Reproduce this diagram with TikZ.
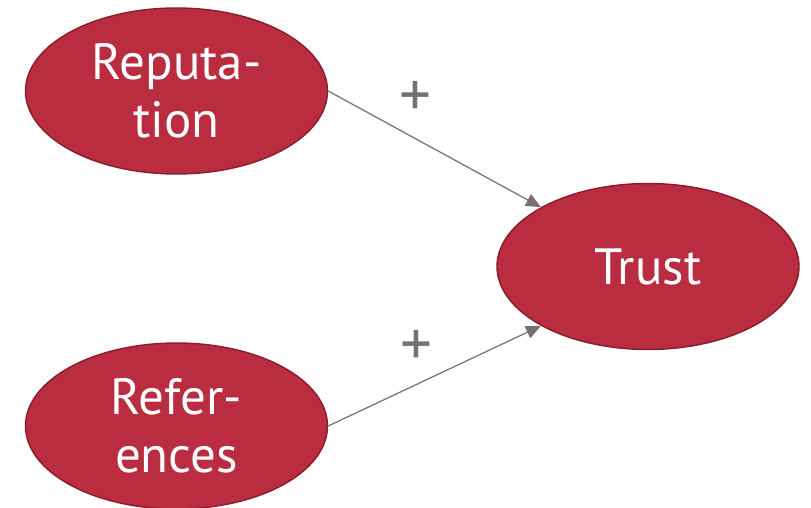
\documentclass[tikz,border=0pt]{standalone}
\usepackage{fontspec}
\setmainfont{PT Sans}
\usepackage{tikz}
\usetikzlibrary{arrows.meta,positioning,shapes.geometric}
\definecolor{FactorRed}{RGB}{186,44,63}
\definecolor{FactorEdge}{RGB}{138,28,44}
\definecolor{LinkGray}{RGB}{118,113,113}

\begin{document}
\begin{tikzpicture}[
    factor/.style={ellipse, fill=FactorRed, draw=FactorEdge, line width=0.8pt,
      minimum width=6.04cm, minimum height=3.32cm, inner sep=0pt,
      text=white, align=center, font=\fontsize{29}{33}\selectfont},
    link/.style={draw=LinkGray, line width=0.7pt, -{Triangle[length=3mm,width=2.6mm]}},
    sign/.style={text=LinkGray, font=\fontsize{36}{40}\selectfont, inner sep=0pt}]
        \useasboundingbox (0,0) rectangle (16.22,10.16);
        \node[factor] (rep) at (3.53,8.34) {Reputa-\\tion};
        \node[factor] (ref) at (3.53,1.64) {Refer-\\ences};
        \node[factor] (trust) at (12.96,4.83) {Trust};
        \draw[link] (rep.east) -- (trust.151);
        \draw[link] (ref.east) -- (trust.209);
        \node[sign] (plusrep) at (8.30,8.18) {+};
        \node[sign] (plusref) at (8.32,3.20) {+};
      \end{tikzpicture}
\end{document}
